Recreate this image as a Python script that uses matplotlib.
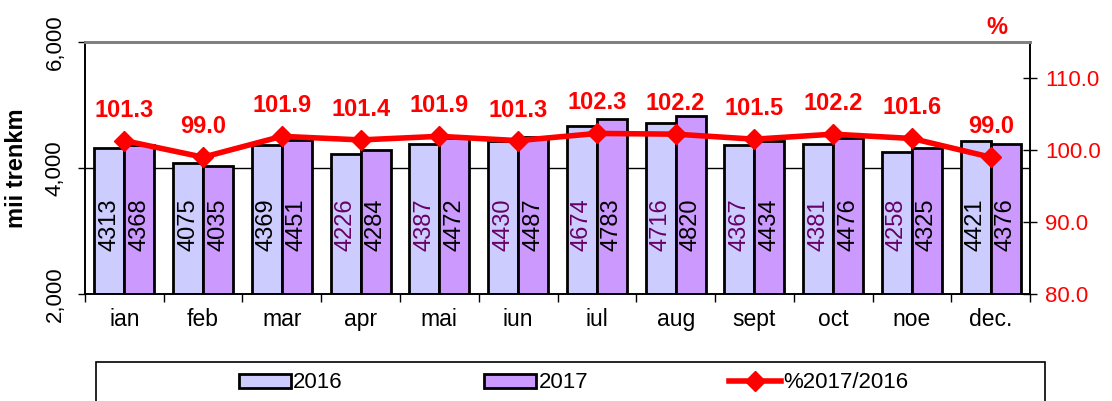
import numpy as np
import matplotlib.pyplot as plt
from matplotlib.patches import Rectangle
from matplotlib.ticker import FuncFormatter

plt.rcParams['font.family'] = ['Liberation Sans', 'DejaVu Sans']

# Data
months = ['ian', 'feb', 'mar', 'apr', 'mai', 'iun', 'iul', 'aug', 'sept', 'oct', 'noe', 'dec.']
v2016 = [4313, 4075, 4369, 4226, 4387, 4430, 4674, 4716, 4367, 4381, 4258, 4421]
v2017 = [4368, 4035, 4451, 4284, 4472, 4487, 4783, 4820, 4434, 4476, 4325, 4376]
pct = [101.3, 99.0, 101.9, 101.4, 101.9, 101.3, 102.3, 102.2, 101.5, 102.2, 101.6, 99.0]
label_col_2016 = ['black', 'black', 'black', '#660066', '#660066', '#660066',
                  '#660066', '#660066', '#660066', '#660066', '#660066', 'black']

c2016 = '#CCCCFF'
c2017 = '#CC99FF'
red = '#FF0000'

fig = plt.figure(figsize=(11.12, 4.01), dpi=100)
ax = fig.add_axes([0.0764, 0.2668, 0.8499, 0.6285])
ax2 = ax.twinx()

x = np.arange(len(months))
w = 0.38
b1 = ax.bar(x - w / 2, np.array(v2016) - 2000, w, bottom=2000, color=c2016,
            edgecolor='black', linewidth=2, zorder=3, label='2016')
b2 = ax.bar(x + w / 2, np.array(v2017) - 2000, w, bottom=2000, color=c2017,
            edgecolor='black', linewidth=2, zorder=3, label='2017')

# bar value labels (rotated, inside bars)
for i in range(len(months)):
    ax.text(x[i] - w / 2, 3100, str(v2016[i]), rotation=90, ha='center', va='center',
            fontsize=17, color=label_col_2016[i], zorder=4)
    ax.text(x[i] + w / 2, 3100, str(v2017[i]), rotation=90, ha='center', va='center',
            fontsize=17, color='black', zorder=4)

ax.set_xlim(-0.5, len(months) - 0.5)
ax.set_ylim(2000, 6000)
ax.set_yticks([2000, 4000, 6000])
ax.yaxis.set_major_formatter(FuncFormatter(lambda v, p: f'{int(v):,}'))
for lab in ax.get_yticklabels():
    lab.set_rotation(90)
    lab.set_va('center')
ax.tick_params(axis='y', labelsize=16, length=5, width=1, pad=9)
ax.set_ylabel('mii trenkm', fontsize=17, fontweight='bold', labelpad=12)
ax.axhline(4000, color='black', linewidth=1, zorder=1)

ax.set_xticks(x)
ax.set_xticklabels(months, fontsize=16.5)
ax.set_xticks(np.arange(-0.5, len(months)), minor=True)
ax.tick_params(axis='x', which='major', length=0, pad=10)
ax.tick_params(axis='x', which='minor', length=6, width=1)

# line on secondary axis
ax2.plot(x, pct, color=red, linewidth=4, marker='D', markersize=10, zorder=5,
         label='%2017/2016')
for i in range(len(months)):
    ax2.annotate(f'{pct[i]:.1f}', (x[i], pct[i]), xytext=(0, 22), textcoords='offset points',
                 ha='center', va='center', fontsize=17, fontweight='bold', color=red)
ax2.set_ylim(80, 115)
ax2.set_yticks([80, 90, 100, 110])
ax2.yaxis.set_major_formatter(FuncFormatter(lambda v, p: f'{v:.1f}'))
ax2.tick_params(axis='y', labelsize=16, labelcolor=red, direction='inout', length=10, width=1, pad=6)
ax2.text(0.965, 1.056, '%', transform=ax.transAxes, color=red, fontsize=17,
         fontweight='bold', ha='center', va='center')

for a in (ax, ax2):
    a.spines['top'].set_color('#808080')
    a.spines['top'].set_linewidth(2)
    a.spines['left'].set_linewidth(1.2)
    a.spines['right'].set_linewidth(1.2)
    a.spines['bottom'].set_linewidth(1.2)

# legend box
fig.patches.append(Rectangle((0.086, -0.05), 0.854, 0.147, transform=fig.transFigure,
                             fill=False, edgecolor='black', linewidth=1.2))
handles = [b1, b2] + ax2.get_lines()
fig.legend(handles, ['2016', '2017', '%2017/2016'], loc='center', ncol=3,
           bbox_to_anchor=(0.516, 0.045), frameon=False, fontsize=16,
           handlelength=2.35, handleheight=0.6, handletextpad=0.1, columnspacing=6.35)

fig.savefig('out.png', dpi=100)
